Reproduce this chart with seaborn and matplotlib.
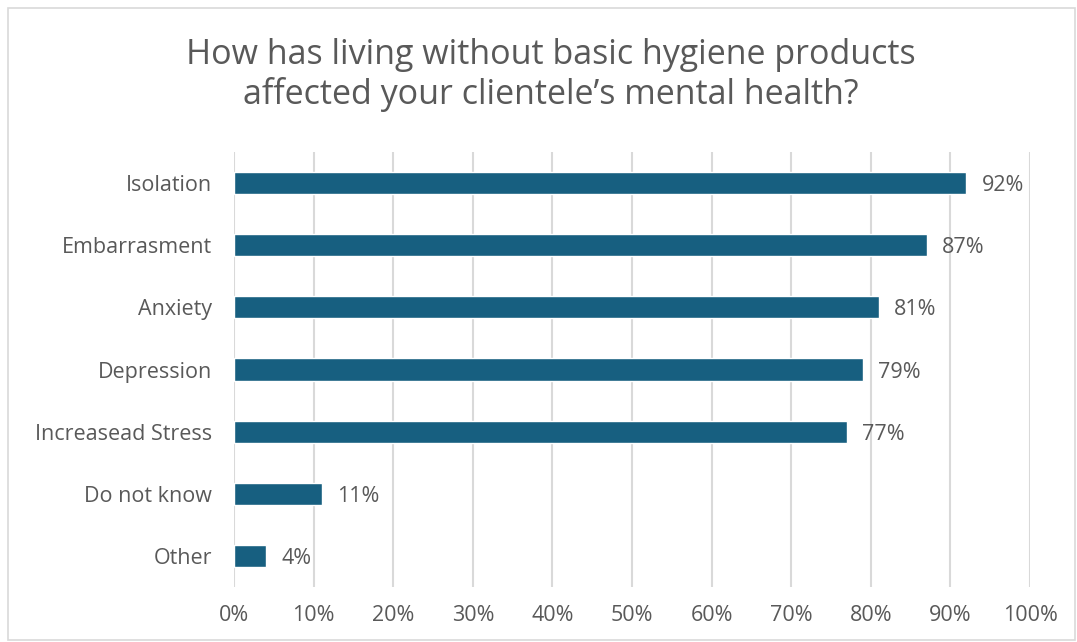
import matplotlib
matplotlib.use("Agg")
import matplotlib.pyplot as plt
import seaborn as sns
import pandas as pd
from matplotlib.patches import Rectangle
from matplotlib.ticker import PercentFormatter

# data
categories = ["Isolation", "Embarrasment", "Anxiety", "Depression",
              "Increasead Stress", "Do not know", "Other"]
values = [92, 87, 81, 79, 77, 11, 4]
title = "How has living without basic hygiene products\naffected your clientele\u2019s mental health?"

df = pd.DataFrame({"category": categories, "value": values})

sns.set_theme(style="white")
plt.rcParams["font.family"] = ["Open Sans", "DejaVu Sans"]
text_color = "#595959"
bar_color = "#175F80"

fig = plt.figure(figsize=(10.77, 6.42), dpi=100)
ax = fig.add_axes([0.2173, 0.0857, 0.9564 - 0.2173, 0.7632 - 0.0857])

sns.barplot(data=df, x="value", y="category", orient="h", color=bar_color,
            width=0.355, saturation=1, ax=ax)

ax.set_xlim(0, 100)
ax.set_ylim(6.5, -0.5)
ax.set_xticks(range(0, 101, 10))
ax.xaxis.set_major_formatter(PercentFormatter(decimals=0))
ax.xaxis.grid(True, color="#D9D9D9", linewidth=1.5)
ax.set_axisbelow(True)
for s in ax.spines.values():
    s.set_visible(False)
ax.set_xlabel("")
ax.set_ylabel("")
ax.tick_params(axis="x", labelsize=15.5, colors=text_color, pad=13, length=0)
ax.tick_params(axis="y", labelsize=15.5, colors=text_color, pad=16, length=0)

labels = ax.bar_label(ax.containers[0], labels=[f"{v}%" for v in values],
                      padding=11, fontsize=15.5, color=text_color)
for t in labels:
    t.set_va("center_baseline")

fig.text(0.511, 0.883, title, ha="center", va="center", fontsize=24.5,
         color=text_color, linespacing=1.2)

fig.patches.append(Rectangle((8 / 1077, 2 / 642), 1067 / 1077, 632 / 642,
                             transform=fig.transFigure, fill=False,
                             edgecolor="#D9D9D9", linewidth=1.2))

fig.savefig("out.png", dpi=100)
